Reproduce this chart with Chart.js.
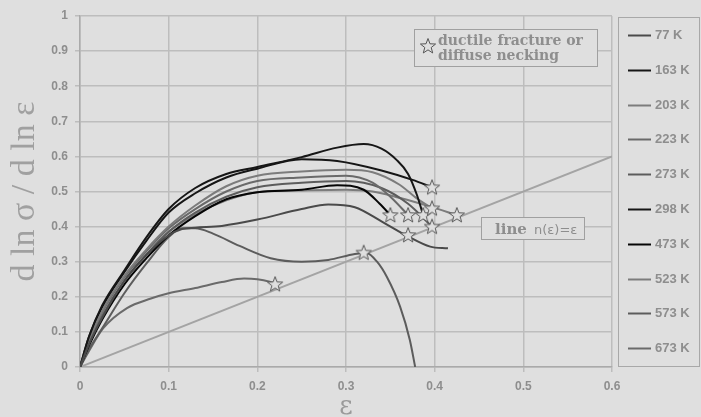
<!DOCTYPE html>
<html>
<head>
<meta charset="utf-8">
<script src="https://cdn.jsdelivr.net/npm/chart.js@4.4.1/dist/chart.umd.min.js"></script>
<style>
  html, body { margin: 0; padding: 0; background: #dfdfdf; }
  #wrap { width: 701px; height: 417px; }
</style>
</head>
<body>
<div id="wrap"><canvas id="myChart" width="701" height="417"></canvas></div>
<script>
// strain (eps) and strain hardening exponent (n) per test temperature
const eps77  = [0, 0.01, 0.025, 0.05, 0.075, 0.1, 0.115, 0.13, 0.16, 0.2, 0.25, 0.28, 0.31, 0.34, 0.37, 0.395, 0.415]
const n77    = [0, 0.065, 0.14, 0.245, 0.32, 0.375, 0.393, 0.397, 0.402, 0.42, 0.45, 0.463, 0.455, 0.415, 0.372, 0.343, 0.338]
const eps163 = [0, 0.01, 0.025, 0.05, 0.075, 0.1, 0.13, 0.165, 0.2, 0.25, 0.29, 0.32, 0.34, 0.357, 0.37, 0.38, 0.387]
const n163   = [0, 0.085, 0.175, 0.275, 0.37, 0.45, 0.51, 0.55, 0.57, 0.598, 0.625, 0.635, 0.622, 0.59, 0.55, 0.49, 0.433]
const eps203 = [0, 0.01, 0.025, 0.05, 0.075, 0.1, 0.13, 0.165, 0.2, 0.25, 0.3, 0.33, 0.36, 0.38, 0.397]
const n203   = [0, 0.075, 0.16, 0.26, 0.335, 0.4, 0.46, 0.515, 0.545, 0.557, 0.562, 0.555, 0.52, 0.48, 0.452]
const eps223 = [0, 0.01, 0.025, 0.05, 0.075, 0.1, 0.13, 0.165, 0.2, 0.25, 0.3, 0.33, 0.35, 0.37]
const n223   = [0, 0.07, 0.155, 0.255, 0.33, 0.395, 0.45, 0.5, 0.53, 0.54, 0.545, 0.525, 0.485, 0.433]
const eps273 = [0, 0.01, 0.025, 0.05, 0.075, 0.1, 0.13, 0.165, 0.2, 0.25, 0.3, 0.34, 0.37, 0.397]
const n273   = [0, 0.065, 0.145, 0.245, 0.32, 0.385, 0.44, 0.485, 0.512, 0.525, 0.53, 0.51, 0.465, 0.4]
const eps298 = [0, 0.01, 0.025, 0.05, 0.075, 0.1, 0.13, 0.165, 0.2, 0.25, 0.29, 0.34, 0.375, 0.397]
const n298   = [0, 0.085, 0.17, 0.27, 0.36, 0.44, 0.495, 0.54, 0.565, 0.592, 0.587, 0.56, 0.533, 0.512]
const eps473 = [0, 0.01, 0.025, 0.05, 0.075, 0.1, 0.13, 0.165, 0.2, 0.25, 0.29, 0.32, 0.338, 0.35]
const n473   = [0, 0.06, 0.135, 0.235, 0.31, 0.375, 0.43, 0.478, 0.498, 0.505, 0.518, 0.505, 0.465, 0.433]
const eps523 = [0, 0.01, 0.025, 0.05, 0.075, 0.1, 0.13, 0.165, 0.2, 0.25, 0.3, 0.33, 0.36, 0.395, 0.425]
const n523   = [0, 0.065, 0.145, 0.245, 0.32, 0.385, 0.435, 0.475, 0.498, 0.503, 0.505, 0.5, 0.482, 0.457, 0.433]
const eps573 = [0, 0.01, 0.025, 0.05, 0.075, 0.1, 0.115, 0.13, 0.15, 0.18, 0.215, 0.25, 0.28, 0.31, 0.323, 0.335, 0.346, 0.361, 0.372, 0.378]
const n573   = [0, 0.05, 0.11, 0.21, 0.295, 0.37, 0.395, 0.395, 0.38, 0.345, 0.31, 0.3, 0.305, 0.322, 0.325, 0.3, 0.257, 0.172, 0.077, 0]
const eps673 = [0, 0.01, 0.026, 0.053, 0.08, 0.1, 0.13, 0.16, 0.185, 0.2, 0.214, 0.222]
const n673   = [0, 0.045, 0.11, 0.168, 0.195, 0.21, 0.225, 0.242, 0.252, 0.25, 0.243, 0.236]

// ductile fracture / diffuse necking points
const starEps = [0.397, 0.35, 0.37, 0.387, 0.397, 0.397, 0.425, 0.37, 0.32, 0.22]
const starN   = [0.512, 0.433, 0.433, 0.433, 0.452, 0.4, 0.433, 0.376, 0.326, 0.236]

// line n(eps) = eps
const lineEps = [0, 0.6]
const lineN   = [0, 0.6]

const tempLabels = ['77 K', '163 K', '203 K', '223 K', '273 K', '298 K', '473 K', '523 K', '573 K', '673 K']
const tempEps = [eps77, eps163, eps203, eps223, eps273, eps298, eps473, eps523, eps573, eps673]
const tempN   = [n77, n163, n203, n223, n273, n298, n473, n523, n573, n673]
const tempColors = ['#4a4a4a', '#161616', '#7c7c7c', '#6a6a6a', '#5c5c5c', '#161616', '#060606', '#7c7c7c', '#5c5c5c', '#6a6a6a']

const xTicks = [0, 0.1, 0.2, 0.3, 0.4, 0.5, 0.6]
const yTicks = [0, 0.1, 0.2, 0.3, 0.4, 0.5, 0.6, 0.7, 0.8, 0.9, 1]

const BG = '#dfdfdf'
const GRID = '#bdbdbd'
const TEXT = '#8e8e8e'

function pts(xs, ys){
  return xs.map((x, i) => ({x: x, y: ys[i]}))
}

function starCanvas(r){
  const c = document.createElement('canvas')
  const s = Math.ceil(r * 2 + 4)
  c.width = s; c.height = s
  const g = c.getContext('2d')
  const cx = s / 2, cy = s / 2 + 0.5
  g.beginPath()
  for (let i = 0; i < 10; i++){
    const rad = i % 2 === 0 ? r : r * 0.42
    const a = -Math.PI / 2 + i * Math.PI / 5
    const px = cx + rad * Math.cos(a), py = cy + rad * Math.sin(a)
    if (i === 0) g.moveTo(px, py); else g.lineTo(px, py)
  }
  g.closePath()
  g.fillStyle = BG
  g.fill()
  g.strokeStyle = '#555'
  g.lineWidth = 1
  g.stroke()
  return c
}

const datasets = [{
  label: 'stars',
  data: pts(starEps, starN),
  showLine: false,
  pointStyle: starCanvas(8),
  pointRadius: 8,
}]
tempLabels.forEach((t, i) => {
  datasets.push({
    label: t,
    data: pts(tempEps[i], tempN[i]),
    showLine: true,
    borderColor: tempColors[i],
    borderWidth: 2,
    pointRadius: 0,
    cubicInterpolationMode: 'monotone',
    fill: false,
  })
})
datasets.push({
  label: 'line',
  data: pts(lineEps, lineN),
  showLine: true,
  borderColor: '#a4a4a4',
  borderWidth: 2,
  pointRadius: 0,
})

const decorPlugin = {
  id: 'decor',
  beforeDraw(chart){
    const ctx = chart.ctx
    ctx.save()
    ctx.fillStyle = BG
    ctx.fillRect(0, 0, chart.width, chart.height)
    ctx.restore()
  },
  afterDraw(chart){
    const ctx = chart.ctx
    ctx.save()
    // note box: ductile fracture
    ctx.fillStyle = BG
    ctx.strokeStyle = '#a0a0a0'
    ctx.lineWidth = 1
    ctx.fillRect(414.5, 29.5, 183, 37)
    ctx.strokeRect(414.5, 29.5, 183, 37)
    ctx.drawImage(starCanvas(8), 428 - 10, 46 - 10)
    ctx.fillStyle = TEXT
    ctx.font = 'bold 14px "DejaVu Serif"'
    ctx.textBaseline = 'alphabetic'
    ctx.fillText('ductile fracture or', 438, 45)
    ctx.fillText('diffuse necking', 438, 60)
    // note box: line n(eps)=eps
    ctx.fillStyle = BG
    ctx.fillRect(481.5, 217.5, 103, 22)
    ctx.strokeRect(481.5, 217.5, 103, 22)
    ctx.fillStyle = TEXT
    ctx.font = 'bold 15px "DejaVu Serif"'
    ctx.fillText('line', 495, 234)
    ctx.font = '13px "DejaVu Sans"'
    ctx.fillText('n(\u03b5)=\u03b5', 534, 234)
    // legend
    ctx.strokeStyle = '#a8a8a8'
    ctx.strokeRect(618.5, 17.5, 81, 349)
    ctx.font = 'bold 13px "Liberation Sans", Arial'
    ctx.textBaseline = 'middle'
    tempLabels.forEach((t, i) => {
      const y = Math.round(35 + i * 34.8) + 0.5
      ctx.strokeStyle = tempColors[i]
      ctx.lineWidth = 2
      ctx.beginPath()
      ctx.moveTo(628, y)
      ctx.lineTo(651, y)
      ctx.stroke()
      ctx.fillStyle = TEXT
      ctx.fillText(t, 655, y)
    })
    ctx.restore()
  }
}

const tickFont = {family: '"Liberation Sans", Arial', size: 12, weight: 'bold'}

new Chart(document.getElementById('myChart'), {
  type: 'scatter',
  data: {datasets: datasets},
  plugins: [decorPlugin],
  options: {
    responsive: false,
    animation: false,
    layout: {padding: {top: 16, right: 89, left: 0, bottom: 0}},
    plugins: {legend: {display: false}, tooltip: {enabled: false}},
    scales: {
      x: {
        type: 'linear', min: 0, max: 0.6,
        afterBuildTicks: s => { s.ticks = xTicks.map(v => ({value: v})) },
        afterFit: s => { s.height = 50 },
        grid: {color: GRID, lineWidth: 1.5, tickLength: 5, tickColor: GRID},
        border: {color: '#aaaaaa', width: 1.5},
        ticks: {color: TEXT, font: tickFont, padding: 7, callback: v => String(+v.toFixed(1))},
        title: {display: true, text: '\u03b5', color: '#9a9a9a', font: {family: '"DejaVu Serif"', size: 26, lineHeight: 1}, padding: {top: 0, bottom: -3}},
      },
      y: {
        type: 'linear', min: 0, max: 1,
        afterBuildTicks: s => { s.ticks = yTicks.map(v => ({value: v})) },
        afterFit: s => { s.width = 80 },
        grid: {color: GRID, lineWidth: 1.5, tickLength: 5, tickColor: GRID},
        border: {color: '#aaaaaa', width: 1.5},
        ticks: {color: TEXT, font: tickFont, padding: 7, callback: v => String(+v.toFixed(1))},
        title: {display: true, text: 'd ln \u03c3 / d ln \u03b5', color: '#a0a0a0', font: {family: '"Liberation Serif"', size: 34, lineHeight: 1}, padding: {top: 8, bottom: 0}},
      }
    }
  }
})
</script>
</body>
</html>
